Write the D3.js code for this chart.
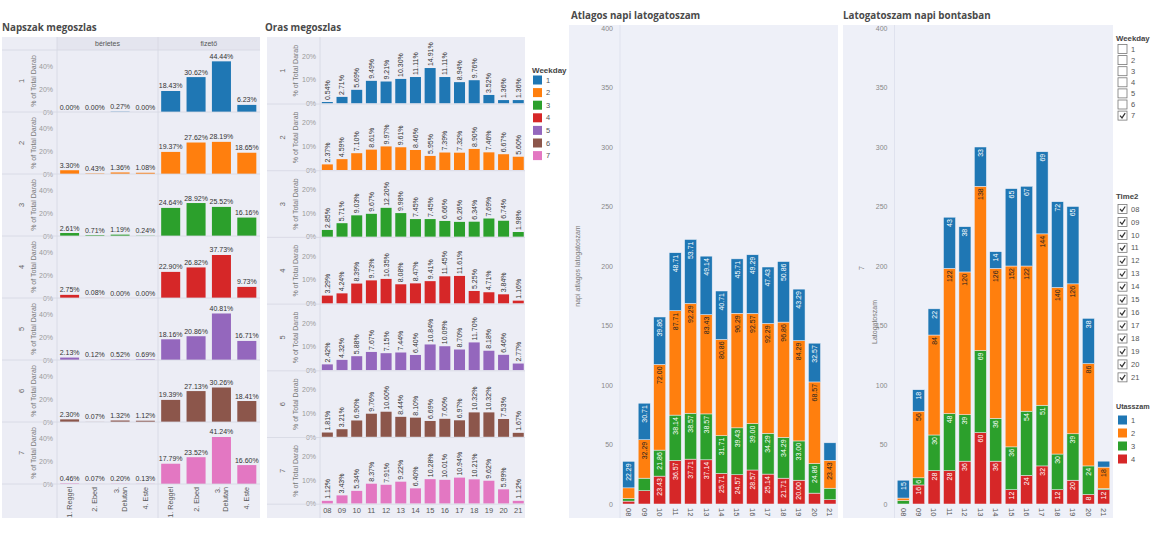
<!DOCTYPE html>
<html><head><meta charset="utf-8">
<script src="https://cdn.jsdelivr.net/npm/d3@7/dist/d3.min.js"></script>
<style>
body{margin:0;background:#fff;}
svg{display:block;font-family:"Liberation Sans",Arial,sans-serif;}
.ttl{font-family:"Open Sans",sans-serif;font-weight:700;font-size:9.8px;fill:#4a4a4a;}
.tick text{font-family:"Liberation Sans",Arial,sans-serif;}
</style></head><body>
<svg id="c" width="1151" height="535"></svg>
<script>
// ---------- DATA ----------
const weekdays = ['1','2','3','4','5','6','7'];
const napszak = ['1. Reggel','2. Ebed','3. Delutan','4. Este'];
const passTypes = ['bérletes','fizető'];
const berletesPct = [
  [0.00,0.00,0.27,0.00],[3.30,0.43,1.36,1.08],[2.61,0.71,1.19,0.24],[2.75,0.08,0.00,0.00],
  [2.13,0.12,0.52,0.69],[2.30,0.07,1.32,1.12],[0.46,0.07,0.20,0.13]];
const fizetoPct = [
  [18.43,30.62,44.44,6.23],[19.37,27.62,28.19,18.65],[24.64,28.92,25.52,16.16],[22.90,26.82,37.73,9.73],
  [18.16,20.86,40.81,16.71],[19.39,27.13,30.26,18.41],[17.79,23.52,41.24,16.60]];
const hours = ['08','09','10','11','12','13','14','15','16','17','18','19','20','21'];
const orasPct = [
  [0.54,2.71,5.69,9.49,9.21,10.30,11.11,14.91,11.11,8.94,9.76,3.52,1.36,1.36],
  [2.37,4.59,7.10,8.61,9.97,9.61,8.46,5.95,7.39,7.32,8.90,7.46,6.67,5.60],
  [2.85,5.71,9.03,9.67,12.20,9.98,7.45,7.45,6.66,6.26,6.34,7.69,6.74,1.98],
  [3.29,4.24,8.39,9.73,10.35,8.08,8.47,9.41,11.45,11.61,5.25,4.71,3.84,1.16],
  [2.42,4.32,5.88,7.67,7.15,7.44,6.40,10.84,10.09,8.70,11.70,8.18,6.46,2.77],
  [1.81,3.21,6.90,9.76,10.60,8.44,8.10,6.69,7.60,6.97,10.32,10.32,7.53,1.67],
  [1.12,3.43,5.34,8.37,7.91,9.22,6.40,10.28,10.01,10.94,10.21,9.62,5.99,1.12]];
const utasszam = ['1','2','3','4'];
const avgU1 = [22.29,30.71,39.86,48.71,53.71,49.14,40.71,45.71,49.29,47.43,50.86,43.29,32.57,14.71];
const avgU2 = [9.00,32.29,72.00,87.71,92.29,83.43,80.86,96.29,92.57,92.29,96.86,84.29,68.57,23.43];
const avgU3 = [2.14,10.57,21.86,38.14,38.57,38.57,31.71,39.43,39.00,34.29,34.29,33.00,24.86,9.71];
const avgU4 = [2.43,11.14,23.43,36.57,37.71,37.14,25.71,24.57,28.57,25.14,21.71,20.00,9.14,3.57];
const sunU1 = [15,18,22,43,38,33,14,65,67,69,72,65,38,5];
const sunU2 = [2,56,84,122,120,138,126,152,122,144,140,126,86,18];
const sunU3 = [3,6,30,48,39,69,36,36,54,51,30,39,24,1];
const sunU4 = [0,16,28,28,36,60,36,12,24,32,12,20,8,12];
const selectedWeekday = '7';

const weekdayColors = ['#1f77b4','#ff7f0e','#2ca02c','#d62728','#9467bd','#8c564b','#e377c2'];
const utasColors = ['#1f77b4','#ff7f0e','#2ca02c','#d62728'];

const svg = d3.select('#c');
const PANEL = '#ecedf5';

function styleAxis(g, size, color){
  g.select('.domain').remove();
  g.selectAll('.tick line').remove();
  g.selectAll('.tick text').attr('font-size', size).attr('fill', color);
}

// ---------- LEFT: Napszak megoszlas ----------
(function(){
  const g = svg.append('g');
  g.append('text').attr('class','ttl').attr('x',2).attr('y',31).text('Napszak megoszlas');
  g.append('rect').attr('x',2).attr('y',37).attr('width',258).attr('height',481).attr('fill',PANEL);
  g.append('rect').attr('x',57).attr('y',37).attr('width',203).attr('height',13).attr('fill','#e4e5ef');
  const top0 = 50, rowH = 62;
  const facetRanges = [[57,158],[158,259.5]];
  const xs = facetRanges.map(r => d3.scaleBand().domain(napszak).range(r).paddingInner(0.25).paddingOuter(0.125));
  passTypes.forEach((p,i)=>{
    g.append('text').attr('x',(facetRanges[i][0]+facetRanges[i][1])/2).attr('y',46)
      .attr('text-anchor','middle').attr('font-size',7).attr('fill','#555').text(p);
  });
  weekdays.forEach((w,ri)=>{
    const y0 = top0 + ri*rowH, y1 = y0 + rowH;
    const y = d3.scaleLinear().domain([0,54.4]).range([y1, y0]);
    const ax = g.append('g').attr('transform','translate(55,0)')
      .call(d3.axisLeft(y).tickValues([0,20,40]).tickFormat(d=>d+'%').tickSize(0).tickPadding(2));
    styleAxis(ax, 7, '#9a9a9a');
    const ym = (y0+y1)/2;
    g.append('text').attr('transform',`translate(24,${ym}) rotate(-90)`).attr('text-anchor','middle')
      .attr('font-size',7.5).attr('fill','#666').text(w);
    g.append('text').attr('transform',`translate(36,${ym}) rotate(-90)`).attr('text-anchor','middle')
      .attr('font-size',7).attr('fill','#777').text('% of Total Darab');
    [berletesPct[ri], fizetoPct[ri]].forEach((vals,fi)=>{
      const x = xs[fi];
      g.selectAll(null).data(vals).enter().append('rect')
        .attr('x',(d,k)=>x(napszak[k])).attr('width',x.bandwidth())
        .attr('y',d=>y(d)).attr('height',d=>Math.max(0,y(0)-y(d)))
        .attr('fill',weekdayColors[ri]);
      g.selectAll(null).data(vals).enter().append('text')
        .attr('x',(d,k)=>x(napszak[k])+x.bandwidth()/2).attr('y',d=>y(d)-2.5)
        .attr('text-anchor','middle').attr('font-size',7).attr('fill','#333')
        .text(d=>d.toFixed(2)+'%');
    });
    g.append('line').attr('x1',2).attr('x2',260).attr('y1',y1).attr('y2',y1).attr('stroke','#d6d7e2').attr('stroke-width',0.8);
  });
  g.append('line').attr('x1',2).attr('x2',260).attr('y1',50).attr('y2',50).attr('stroke','#d6d7e2').attr('stroke-width',0.8);
  [57,158].forEach(xv=>g.append('line').attr('x1',xv).attr('x2',xv).attr('y1',37).attr('y2',518).attr('stroke','#d6d7e2').attr('stroke-width',0.8));
  // x labels rotated
  xs.forEach(x=>{
    napszak.forEach(n=>{
      const parts = n === '3. Delutan' ? ['3.','Delutan'] : [n];
      const t = g.append('text').attr('transform',`translate(${x(n)+x.bandwidth()/2 - (parts.length-1)*3.5},487) rotate(-90)`)
        .attr('text-anchor','end').attr('font-size',7.2).attr('fill','#555');
      parts.forEach((p,i)=>t.append('tspan').attr('x',0).attr('dy', i===0?'0.35em':'1.05em').text(p));
    });
  });
})();

// ---------- MIDDLE: Oras megoszlas ----------
(function(){
  const g = svg.append('g');
  g.append('text').attr('class','ttl').attr('x',265).attr('y',31).text('Oras megoszlas');
  g.append('rect').attr('x',267).attr('y',37).attr('width',258).attr('height',481).attr('fill',PANEL);
  const top0 = 37.3, rowH = 66.7;
  const x = d3.scaleBand().domain(hours).range([320,525.6]).paddingInner(0.25).paddingOuter(0.125);
  weekdays.forEach((w,ri)=>{
    const y0 = top0 + ri*rowH, y1 = y0 + rowH;
    const y = d3.scaleLinear().domain([0,27.9]).range([y1-0.7, y0]);
    const ax = g.append('g').attr('transform','translate(318,0)')
      .call(d3.axisLeft(y).tickValues([0,10,20]).tickFormat(d=>d+'%').tickSize(0).tickPadding(2));
    styleAxis(ax, 7, '#9a9a9a');
    const ym = (y0+y1)/2;
    g.append('text').attr('transform',`translate(285,${ym}) rotate(-90)`).attr('text-anchor','middle')
      .attr('font-size',7.5).attr('fill','#666').text(w);
    g.append('text').attr('transform',`translate(298,${ym}) rotate(-90)`).attr('text-anchor','middle')
      .attr('font-size',7).attr('fill','#777').text('% of Total Darab');
    const vals = orasPct[ri];
    g.selectAll(null).data(vals).enter().append('rect')
      .attr('x',(d,k)=>x(hours[k])).attr('width',x.bandwidth())
      .attr('y',d=>y(d)).attr('height',d=>y(0)-y(d)).attr('fill',weekdayColors[ri]);
    g.selectAll(null).data(vals).enter().append('text')
      .attr('transform',(d,k)=>`translate(${x(hours[k])+x.bandwidth()/2},${y(d)-2}) rotate(-90)`)
      .attr('dy','0.35em').attr('font-size',7).attr('fill','#333').text(d=>d.toFixed(2)+'%');
    g.append('line').attr('x1',267).attr('x2',525).attr('y1',y1).attr('y2',y1).attr('stroke','#d6d7e2').attr('stroke-width',0.8);
  });
  g.append('line').attr('x1',320).attr('x2',320).attr('y1',37).attr('y2',518).attr('stroke','#d6d7e2').attr('stroke-width',0.8);
  const xa = g.append('g').attr('transform','translate(0,506)').call(d3.axisBottom(x).tickSize(0).tickPadding(2));
  styleAxis(xa, 7.5, '#555');
  // legend
  const lg = g.append('g').attr('transform','translate(532,0)');
  lg.append('text').attr('x',0).attr('y',73).attr('font-size',8).attr('font-weight','bold').attr('fill','#444').text('Weekday');
  weekdays.forEach((w,i)=>{
    const yy = 80 + i*12.6;
    lg.append('rect').attr('x',1).attr('y',yy-4.5).attr('width',9).attr('height',9).attr('fill',weekdayColors[i]);
    lg.append('text').attr('x',14).attr('y',yy).attr('dy','0.35em').attr('font-size',7.5).attr('fill','#555').text(w);
  });
})();

// ---------- stacked charts ----------
function stacked(opts){
  const g = svg.append('g');
  g.append('text').attr('class','ttl').attr('x',opts.tx).attr('y',19).text(opts.title);
  g.append('rect').attr('x',opts.bx).attr('y',25).attr('width',opts.bw).attr('height',493).attr('fill','#eef0f8');
  const x = d3.scaleBand().domain(hours).range(opts.xr).paddingInner(0.22).paddingOuter(0.11);
  const y = d3.scaleLinear().domain([0,400]).range([504,28]);
  g.append('line').attr('x1',opts.xr[0]-1).attr('x2',opts.xr[0]-1).attr('y1',25).attr('y2',518).attr('stroke','#dfe2ee').attr('stroke-width',1);
  const ax = g.append('g').attr('transform',`translate(${opts.xr[0]-7},0)`)
    .call(d3.axisLeft(y).tickValues([0,50,100,150,200,250,300,350,400]).tickSize(0).tickPadding(1));
  styleAxis(ax, 7, '#888');
  const rows = hours.map((h,i)=>({h, u1:opts.s[0][i], u2:opts.s[1][i], u3:opts.s[2][i], u4:opts.s[3][i]}));
  const keys = ['u4','u3','u2','u1'];
  const series = d3.stack().keys(keys)(rows);
  const cols = {u1:utasColors[0],u2:utasColors[1],u3:utasColors[2],u4:utasColors[3]};
  series.forEach(s=>{
    const key = s.key;
    g.selectAll(null).data(s).enter().append('rect')
      .attr('x',d=>x(d.data.h)).attr('width',x.bandwidth())
      .attr('y',d=>y(d[1])).attr('height',d=>Math.max(0,y(d[0])-y(d[1])))
      .attr('fill',cols[key]).attr('stroke','#eef0f8').attr('stroke-width',0.5);
    s.forEach(d=>{
      const v = d.data[key];
      const txt = opts.fmt(v);
      const segH = y(d[0]) - y(d[1]);
      const len = txt.length * 3.9 * (txt.includes('.')?0.93:1);
      if (v > 0 && segH >= len + 3) {
        g.append('text').attr('transform',`translate(${x(d.data.h)+x.bandwidth()/2},${y(d[1])+2}) rotate(-90)`)
          .attr('text-anchor','end').attr('dy','0.35em').attr('font-size',7)
          .attr('fill', key==='u2' ? '#222' : '#fff').text(txt);
      }
    });
  });
  const xa = g.append('g').attr('transform','translate(0,505)').call(d3.axisBottom(x).tickSize(0).tickPadding(0));
  xa.select('.domain').remove();
  xa.selectAll('.tick text').attr('transform','rotate(90)').attr('text-anchor','start').attr('x',3).attr('y',0).attr('dy','0.35em')
    .attr('font-size',7.5).attr('fill','#555');
  opts.ylab.forEach(l=>{
    g.append('text').attr('transform',`translate(${l.x},${l.y}) rotate(-90)`).attr('text-anchor',l.anchor||'middle')
      .attr('font-size',7).attr('fill','#777').text(l.t);
  });
}
stacked({title:'Atlagos napi latogatoszam', tx:571, bx:569, bw:269, xr:[621,837.7],
  s:[avgU1,avgU2,avgU3,avgU4], fmt:v=>v.toFixed(2),
  ylab:[{x:580,y:266,t:'napi atlagos latogatoszam'}]});
stacked({title:'Latogatoszam napi bontasban', tx:843, bx:843, bw:270, xr:[895.5,1111.5],
  s:[sunU1,sunU2,sunU3,sunU4], fmt:v=>String(v),
  ylab:[{x:864,y:268,t:selectedWeekday},{x:877,y:322,t:'Latogatoszam'}]});

// ---------- right legends ----------
(function(){
  const g = svg.append('g').attr('transform','translate(1116,0)');
  function checkbox(x,y,checked){
    g.append('rect').attr('x',x).attr('y',y-4.5).attr('width',9).attr('height',9).attr('fill','#fff').attr('stroke','#777').attr('stroke-width',0.8);
    if(checked) g.append('path').attr('d',`M${x+2},${y} L${x+4},${y+2.3} L${x+7.2},${y-2.5}`).attr('fill','none').attr('stroke','#333').attr('stroke-width',1.2);
  }
  g.append('text').attr('x',0).attr('y',41).attr('font-size',7.8).attr('font-weight','bold').attr('fill','#444').text('Weekday');
  weekdays.forEach((w,i)=>{
    const yy = 49 + i*11.1;
    checkbox(2,yy,w===selectedWeekday);
    g.append('text').attr('x',15).attr('y',yy).attr('dy','0.35em').attr('font-size',7.5).attr('fill','#555').text(w);
  });
  g.append('text').attr('x',0).attr('y',199).attr('font-size',7.8).attr('font-weight','bold').attr('fill','#444').text('Time2');
  hours.forEach((h,i)=>{
    const yy = 209 + i*12.95;
    checkbox(2,yy,true);
    g.append('text').attr('x',15).attr('y',yy).attr('dy','0.35em').attr('font-size',7.5).attr('fill','#555').text(h);
  });
  g.append('text').attr('x',0).attr('y',409).attr('font-size',7.2).attr('font-weight','bold').attr('fill','#444').text('Utasszam');
  utasszam.forEach((u,i)=>{
    const yy = 420 + i*13;
    g.append('rect').attr('x',2).attr('y',yy-4.5).attr('width',9).attr('height',9).attr('fill',utasColors[i]);
    g.append('text').attr('x',15).attr('y',yy).attr('dy','0.35em').attr('font-size',7.5).attr('fill','#555').text(u);
  });
})();
</script>
</body></html>
